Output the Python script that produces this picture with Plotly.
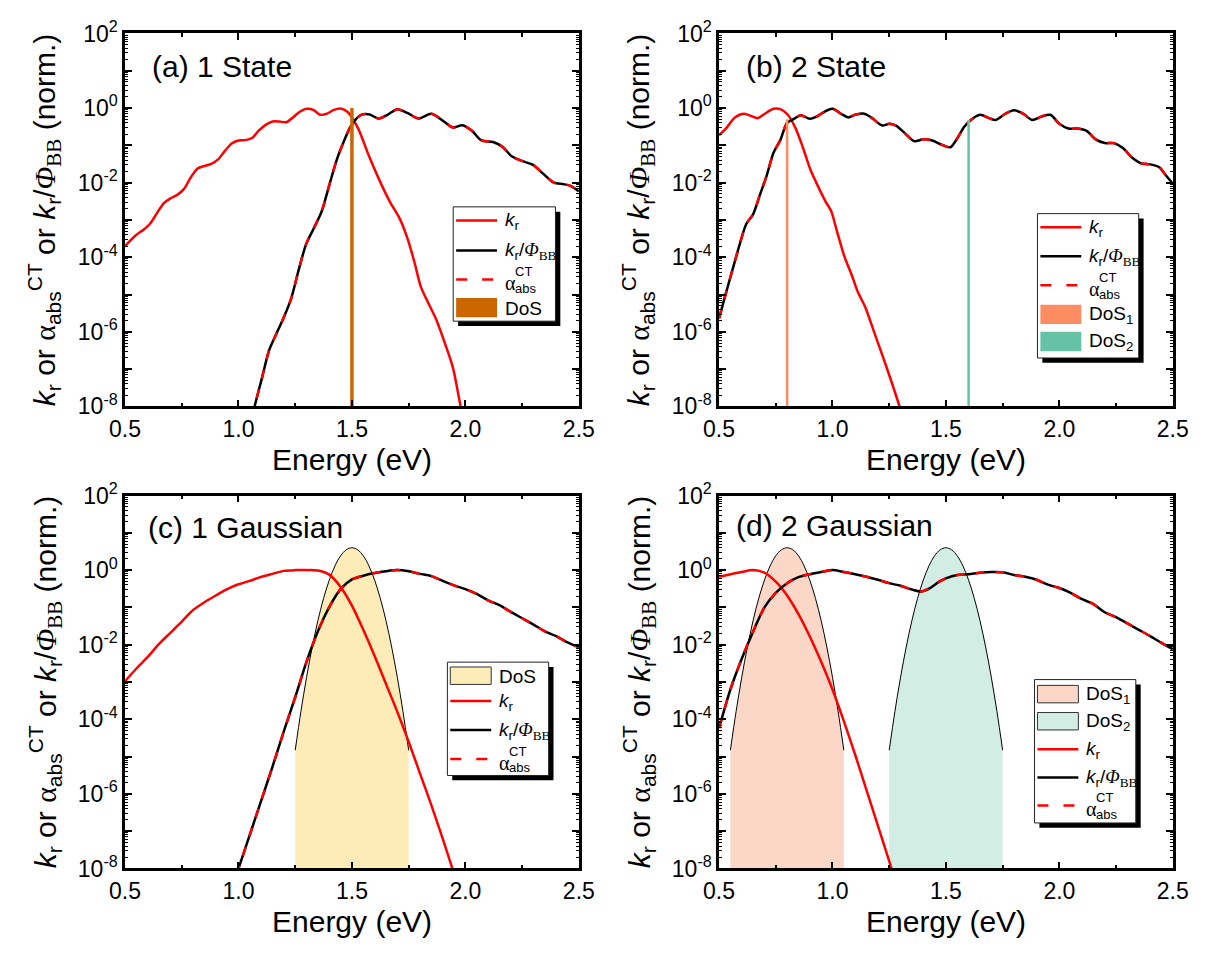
import plotly.graph_objects as go

W, H = 1219, 958
FONT = "Liberation Sans, Arial, Helvetica, sans-serif"
SERIF = "Liberation Serif"

# ---------------- data ----------------
# (a) 1 State
E_a_kr = [0.50, 0.55, 0.58, 0.61, 0.64, 0.67, 0.70, 0.73, 0.76, 0.79,
          0.82, 0.85, 0.88, 0.91, 0.94, 0.97, 1.00, 1.03, 1.06, 1.09,
          1.12, 1.15, 1.18, 1.21, 1.24, 1.27, 1.30, 1.33, 1.36, 1.39,
          1.42, 1.45, 1.48, 1.525, 1.576, 1.626, 1.668, 1.71, 1.744, 1.777,
          1.803, 1.836, 1.870, 1.912, 1.945, 1.979, 1.99]
kr_a = [2.0e-4, 4.0e-4, 5.4e-4, 7.9e-4, 1.5e-3, 2.8e-3, 3.8e-3, 4.7e-3, 6.8e-3, 1.4e-2,
        2.4e-2, 2.8e-2, 3.2e-2, 4.2e-2, 7.1e-2, 0.112, 0.135, 0.138, 0.158, 0.251,
        0.355, 0.437, 0.437, 0.417, 0.562, 0.794, 0.955, 0.891, 0.661, 0.708,
        0.891, 0.977, 0.794, 0.302, 0.050, 1.0e-2, 3.0e-3, 1.1e-3, 3.3e-4, 6.8e-5,
        1.66e-5, 6.0e-6, 2.24e-6, 4.5e-7, 1.1e-7, 1.0e-8, 5.0e-9]
E_a_bb = [1.06, 1.071, 1.105, 1.135, 1.164, 1.197, 1.231, 1.265, 1.298, 1.332, 1.366,
          1.399, 1.433, 1.466, 1.492, 1.517, 1.545, 1.576, 1.618, 1.66, 1.70,
          1.744, 1.794, 1.85, 1.903, 1.945, 1.987, 2.029, 2.071, 2.122, 2.164,
          2.206, 2.256, 2.298, 2.34, 2.39, 2.433, 2.466, 2.50]
krbb_a = [5.0e-9, 1.0e-8, 6.3e-8, 3.2e-7, 8.1e-7, 2.24e-6, 7.4e-6, 4.5e-5, 2.24e-4, 6.0e-4, 1.66e-3,
          8.1e-3, 4.1e-2, 0.135, 0.302, 0.50, 0.676, 0.676, 0.525, 0.676, 0.933,
          0.741, 0.525, 0.70, 0.447, 0.302, 0.347, 0.245, 0.135, 0.123, 0.091,
          0.050, 0.037, 0.030, 0.018, 0.010, 0.0091, 0.0081, 0.0058]
alpha_a = list(krbb_a)          # alpha_abs^CT coincides with k_r/Phi_BB
dosE_a = [1.50]
dosH_a = [1.0]

# (b) 2 State
E_b_kr = [0.50, 0.53, 0.57, 0.61, 0.64, 0.67, 0.70, 0.74, 0.77, 0.80,
          0.835, 0.868, 0.902, 0.927, 0.969, 0.994, 1.019, 1.052, 1.086, 1.111,
          1.145, 1.186, 1.236, 1.295, 1.31]
kr_b = [0.186, 0.282, 0.562, 0.708, 0.617, 0.537, 0.692, 0.955, 0.933, 0.692,
        0.309, 0.0933, 0.0229, 0.0105, 3.16e-3, 1.74e-3, 5.2e-4, 1.07e-4, 3.2e-5, 1.2e-5,
        4.5e-6, 8.9e-7, 1.23e-7, 1.02e-8, 5.0e-9]
E_b_bb = [0.50, 0.53, 0.56, 0.59, 0.62, 0.65, 0.68, 0.71, 0.74, 0.77,
          0.80, 0.83, 0.86, 0.90, 0.93, 0.97, 1.00, 1.04, 1.07, 1.10,
          1.14, 1.17, 1.22, 1.25, 1.28, 1.32, 1.36, 1.40, 1.44, 1.48,
          1.52, 1.55, 1.58, 1.61, 1.65, 1.69, 1.72, 1.76, 1.80, 1.84,
          1.88, 1.92, 1.96, 2.00, 2.04, 2.08, 2.12, 2.16, 2.20, 2.24,
          2.28, 2.32, 2.36, 2.40, 2.44, 2.47, 2.50]
krbb_b = [2.3e-6, 1.07e-5, 4.8e-5, 2.1e-4, 7.8e-4, 1.41e-3, 4.7e-3, 0.0155, 0.063, 0.138,
          0.40, 0.513, 0.646, 0.513, 0.589, 0.832, 0.955, 0.692, 0.562, 0.661,
          0.708, 0.562, 0.339, 0.380, 0.339, 0.209, 0.130, 0.145, 0.135, 0.105,
          0.089, 0.155, 0.309, 0.479, 0.661, 0.537, 0.479, 0.692, 0.871, 0.708,
          0.479, 0.589, 0.661, 0.380, 0.282, 0.282, 0.245, 0.145, 0.115, 0.115,
          0.085, 0.047, 0.033, 0.031, 0.026, 0.0155, 0.0093]
alpha_b = list(krbb_b)
dosE_b = [0.80, 1.60]
dosH_b = [0.50, 0.48]

# (c) 1 Gaussian
E_c_kr = [0.50, 0.55, 0.60, 0.65, 0.70, 0.75, 0.80, 0.85, 0.90, 0.95,
          1.00, 1.05, 1.10, 1.15, 1.20, 1.25, 1.30, 1.35, 1.40, 1.45,
          1.50, 1.55, 1.60, 1.65, 1.70, 1.75, 1.80, 1.85, 1.90, 1.94, 1.95]
kr_c = [1.05e-3, 2.3e-3, 4.7e-3, 0.0105, 0.0209, 0.0417, 0.085, 0.138, 0.209, 0.309,
        0.417, 0.513, 0.661, 0.794, 0.955, 1.0, 1.0, 0.977, 0.759, 0.355,
        0.112, 0.0251, 5.0e-3, 8.9e-4, 1.58e-4, 2.5e-5, 3.5e-6, 5.0e-7, 6.3e-8, 1.12e-8, 7.1e-9]
E_c_bb = [0.99, 1.00, 1.05, 1.10, 1.15, 1.20, 1.25, 1.30, 1.35, 1.40, 1.45,
          1.50, 1.55, 1.60, 1.65, 1.70, 1.75, 1.80, 1.85, 1.90, 1.95,
          2.00, 2.05, 2.10, 2.15, 2.20, 2.25, 2.30, 2.35, 2.40, 2.45, 2.50]
krbb_c = [7.0e-9, 1.0e-8, 8.1e-8, 6.6e-7, 5.4e-6, 4.8e-5, 3.9e-4, 3.5e-3, 0.0229, 0.102, 0.309,
          0.562, 0.708, 0.832, 0.933, 1.0, 0.933, 0.794, 0.692, 0.513, 0.389,
          0.309, 0.229, 0.155, 0.115, 0.0759, 0.0513, 0.0347, 0.0229, 0.0170, 0.0115, 0.0085]
alpha_c = list(krbb_c)
E_c_dos = [1.250, 1.275, 1.300, 1.325, 1.350, 1.375, 1.400, 1.425, 1.450, 1.475, 1.500,
           1.525, 1.550, 1.575, 1.600, 1.625, 1.650, 1.675, 1.700, 1.725, 1.750]
dos_c = [1.48e-5, 1.6e-4, 1.34e-3, 8.7e-3, 0.0443, 0.175, 0.538, 1.29, 2.42, 3.51, 3.98,
         3.51, 2.42, 1.29, 0.538, 0.175, 0.0443, 8.7e-3, 1.34e-3, 1.6e-4, 1.48e-5]

# (d) 2 Gaussian
E_d_kr = [0.50, 0.55, 0.60, 0.65, 0.70, 0.75, 0.80, 0.85, 0.90, 0.95,
          1.00, 1.05, 1.10, 1.15, 1.20, 1.25, 1.27]
kr_d = [0.661, 0.776, 0.891, 1.0, 0.851, 0.490, 0.209, 0.066, 0.0166, 3.5e-3,
        6.3e-4, 8.9e-5, 1.12e-5, 1.26e-6, 1.41e-7, 1.58e-8, 6.3e-9]
E_d_bb = [0.50, 0.55, 0.60, 0.65, 0.70, 0.75, 0.80, 0.85, 0.90, 0.95,
          1.00, 1.05, 1.10, 1.15, 1.20, 1.25, 1.30, 1.35, 1.39, 1.43,
          1.47, 1.50, 1.55, 1.60, 1.65, 1.70, 1.75, 1.80, 1.85, 1.90,
          1.95, 2.00, 2.05, 2.10, 2.15, 2.20, 2.25, 2.30, 2.35, 2.40,
          2.45, 2.50]
krbb_d = [5.8e-5, 6.3e-4, 4.2e-3, 0.0224, 0.100, 0.245, 0.447, 0.646, 0.776, 0.891,
          1.0, 0.891, 0.776, 0.661, 0.550, 0.447, 0.380, 0.302, 0.269, 0.331,
          0.490, 0.603, 0.741, 0.776, 0.851, 0.891, 0.871, 0.741, 0.661, 0.550,
          0.407, 0.331, 0.245, 0.166, 0.123, 0.0741, 0.0550, 0.0372, 0.0251, 0.0170,
          0.0112, 0.0076]
alpha_d = list(krbb_d)
E_d_dos1 = [0.550, 0.575, 0.600, 0.625, 0.650, 0.675, 0.700, 0.725, 0.750, 0.775, 0.800,
            0.825, 0.850, 0.875, 0.900, 0.925, 0.950, 0.975, 1.000, 1.025, 1.050]
dos1_d = [1.48e-5, 1.6e-4, 1.34e-3, 8.7e-3, 0.0443, 0.175, 0.538, 1.29, 2.42, 3.51, 3.98,
          3.51, 2.42, 1.29, 0.538, 0.175, 0.0443, 8.7e-3, 1.34e-3, 1.6e-4, 1.48e-5]
E_d_dos2 = [1.250, 1.275, 1.300, 1.325, 1.350, 1.375, 1.400, 1.425, 1.450, 1.475, 1.500,
            1.525, 1.550, 1.575, 1.600, 1.625, 1.650, 1.675, 1.700, 1.725, 1.750]
dos2_d = [1.48e-5, 1.6e-4, 1.34e-3, 8.7e-3, 0.0443, 0.175, 0.538, 1.29, 2.42, 3.51, 3.98,
          3.51, 2.42, 1.29, 0.538, 0.175, 0.0443, 8.7e-3, 1.34e-3, 1.6e-4, 1.48e-5]

panel_titles = ["(a) 1 State", "(b) 2 State", "(c) 1 Gaussian", "(d) 2 Gaussian"]
x_title = "Energy (eV)"
y_exp_range = [-8, 2]
x_range = [0.5, 2.5]

# ---------------- styles ----------------
RED = "#FF0000"
BLACK = "#000000"
C_DOS_A = "#CC6600"
C_DOS1 = "#FC8D62"
C_DOS2 = "#66C2A5"
F_DOS_C = "#FDEBB8"
F_DOS1 = "#FBD7C8"
F_DOS2 = "#D2EDE4"
LW = 2.5
DASH = "9px,11px"
YFLOOR = 10.0 ** y_exp_range[0]

# panel geometry in pixels (left, top, right, bottom)
GEOM = [(112, 17, 578, 402), (722, 17, 1188, 402),
        (112, 494, 578, 879), (722, 494, 1188, 879)]


def P(x, y):
    return x / W, 1 - y / H


fig = go.Figure()


def axn(i):
    return ("x" if i == 0 else f"x{i+1}"), ("y" if i == 0 else f"y{i+1}")


def line_trace(i, x, y, color, width=LW, dash="solid"):
    xa, ya = axn(i)
    fig.add_trace(go.Scatter(x=x, y=y, mode="lines", xaxis=xa, yaxis=ya,
                             line=dict(color=color, width=width, dash=dash, shape="spline", smoothing=0.8),
                             showlegend=False, hoverinfo="skip"))


def dos_fill(i, x, y, fill):
    xa, ya = axn(i)
    fig.add_trace(go.Scatter(x=list(x) + [x[-1], x[0]], y=list(y) + [YFLOOR, YFLOOR],
                             mode="lines", fill="toself", fillcolor=fill, xaxis=xa, yaxis=ya,
                             line=dict(width=0, color=fill), showlegend=False, hoverinfo="skip"))
    fig.add_trace(go.Scatter(x=x, y=y, mode="lines", xaxis=xa, yaxis=ya,
                             line=dict(color=BLACK, width=1, shape="spline"),
                             showlegend=False, hoverinfo="skip"))


def dos_line(i, e, h, color, width):
    xa, ya = axn(i)
    fig.add_trace(go.Scatter(x=[e, e], y=[YFLOOR, h], mode="lines", xaxis=xa, yaxis=ya,
                             line=dict(color=color, width=width), showlegend=False, hoverinfo="skip"))


# (a)
line_trace(0, E_a_kr, kr_a, RED)
line_trace(0, E_a_bb, krbb_a, BLACK)
line_trace(0, E_a_bb, alpha_a, RED, dash=DASH)
dos_line(0, dosE_a[0], dosH_a[0], C_DOS_A, 3.5)
# (b)
line_trace(1, E_b_kr, kr_b, RED)
line_trace(1, E_b_bb, krbb_b, BLACK)
line_trace(1, E_b_bb, alpha_b, RED, dash=DASH)
dos_line(1, dosE_b[0], dosH_b[0], C_DOS1, 2.5)
dos_line(1, dosE_b[1], dosH_b[1], C_DOS2, 2.5)
# (c)
dos_fill(2, E_c_dos, dos_c, F_DOS_C)
line_trace(2, E_c_kr, kr_c, RED)
line_trace(2, E_c_bb, krbb_c, BLACK)
line_trace(2, E_c_bb, alpha_c, RED, dash=DASH)
# (d)
dos_fill(3, E_d_dos1, dos1_d, F_DOS1)
dos_fill(3, E_d_dos2, dos2_d, F_DOS2)
line_trace(3, E_d_kr, kr_d, RED)
line_trace(3, E_d_bb, krbb_d, BLACK)
line_trace(3, E_d_bb, alpha_d, RED, dash=DASH)

# ---------------- axes ----------------
exps = list(range(y_exp_range[0], y_exp_range[1] + 1))
ytv = [10.0 ** k for k in exps]
ytt = [f"10<sup>{k}</sup>" if k % 2 == 0 else "" for k in exps]
ymin = [m * 10.0 ** k for k in exps[:-1] for m in range(2, 10)]

tickfont = dict(family=FONT, size=23, color="black")
layout = dict(width=W, height=H, margin=dict(l=0, r=0, t=0, b=0), autosize=False,
              paper_bgcolor="white", plot_bgcolor="white", showlegend=False)
for i, (l, t, r, b) in enumerate(GEOM):
    sfx = "" if i == 0 else str(i + 1)
    xa, ya = axn(i)
    layout["xaxis" + sfx] = dict(
        domain=[l / W, r / W], anchor=ya, range=x_range, tickmode="linear", tick0=0.5, dtick=0.5,
        tickformat=".1f", showline=True, linewidth=2.5, linecolor="black", mirror="ticks",
        ticks="inside", ticklen=7, tickwidth=2, tickcolor="black", showgrid=False, zeroline=False,
        tickfont=tickfont,
        minor=dict(tick0=0.5, dtick=0.25, ticks="inside", ticklen=4, tickwidth=1.5, tickcolor="black", showgrid=False))
    layout["yaxis" + sfx] = dict(
        domain=[1 - b / H, 1 - t / H], anchor=xa, type="log", range=y_exp_range,
        tickmode="array", tickvals=ytv, ticktext=ytt, showline=True, linewidth=2.5, linecolor="black",
        mirror="ticks", ticks="inside", ticklen=7, tickwidth=2, tickcolor="black", showgrid=False,
        zeroline=False, tickfont=tickfont,
        minor=dict(tickmode="array", tickvals=ymin, ticks="inside", ticklen=3.5, tickwidth=1.2,
                   tickcolor="black", showgrid=False))
fig.update_layout(**layout)

# ---------------- annotations (titles) ----------------
ann = []
shapes = []
YTITLE = ("<i>k</i><sub>r</sub> or <span style='font-family:Liberation Serif'>α</span>"
          "<sub>abs</sub><sup>CT</sup> or <i>k</i><sub>r</sub>/"
          "<span style='font-family:Liberation Serif'><i>Φ</i><sub>BB</sub></span> (norm.)")
label_pos = [(138, 51), (748, 51), (134, 527), (737, 525)]
for i, (l, t, r, b) in enumerate(GEOM):
    cx, cy = P((l + r) / 2, b + 55)
    ann.append(dict(x=cx, y=cy, xref="paper", yref="paper", text=x_title, showarrow=False,
                    xanchor="center", yanchor="middle", font=dict(family=FONT, size=30, color="black")))
    tx, ty = P(l - 82, (t + b) / 2)
    ann.append(dict(x=tx, y=ty, xref="paper", yref="paper", text=YTITLE, showarrow=False,
                    textangle=-90, xanchor="center", yanchor="middle",
                    font=dict(family=FONT, size=30, color="black")))
    lx, ly = P(*label_pos[i])
    ann.append(dict(x=lx, y=ly, xref="paper", yref="paper", text=panel_titles[i], showarrow=False,
                    xanchor="left", yanchor="middle", font=dict(family=FONT, size=30, color="black")))

# ---------------- hand-drawn legends ----------------
KR = "<i>k</i><sub>r</sub>"
KRBB = "<i>k</i><sub>r</sub>/<span style='font-family:Liberation Serif'><i>Φ</i><sub>BB</sub></span>"
LFONT = dict(family=FONT, size=19, color="black")


def rect(x0, y0, x1, y1, fill, lc, lw):
    a, b_ = P(x0, y0)
    c, d = P(x1, y1)
    shapes.append(dict(type="rect", xref="paper", yref="paper", x0=a, y0=d, x1=c, y1=b_,
                       fillcolor=fill, line=dict(color=lc, width=lw), layer="above"))


def seg(x0, x1, y, color, width, dash="solid"):
    a, b_ = P(x0, y)
    c, _ = P(x1, y)
    shapes.append(dict(type="line", xref="paper", yref="paper", x0=a, y0=b_, x1=c, y1=b_,
                       line=dict(color=color, width=width, dash=dash), layer="above"))


def text(x, y, s, font=LFONT):
    a, b_ = P(x, y)
    ann.append(dict(x=a, y=b_, xref="paper", yref="paper", text=s, showarrow=False,
                    xanchor="left", yanchor="middle", font=font))


def legend(box, rows):
    x0, y0, x1, y1 = box
    rect(x0 + 5, y0 + 5, x1 + 5, y1 + 5, "black", "black", 0)
    rect(x0, y0, x1, y1, "white", "#222222", 1)
    sx0, sx1, tx = x0 + 3, x0 + 45, x0 + 51
    for kind, ry, color, label in rows:
        if kind == "line":
            seg(sx0, sx1, ry, color, LW)
        elif kind == "dash":
            seg(sx0, sx1, ry, color, LW, "11px,15px")
        elif kind == "rect":
            rect(sx0, ry - 10, sx1, ry + 10, color, color, 0)
        elif kind == "frect":
            rect(sx0, ry - 9, sx1, ry + 9, color, "#333333", 1)
        if label == "alpha":
            text(tx, ry + 4, "α", dict(family=SERIF, size=20, color="black"))
            text(tx + 10, ry - 8, "CT", dict(family=FONT, size=13, color="black"))
            text(tx + 10, ry + 9, "abs", dict(family=FONT, size=13, color="black"))
        else:
            text(tx, ry + 1, label)


legend((449, 196, 554, 314), [("line", 210, RED, KR), ("line", 241, BLACK, KRBB),
                              ("dash", 271, RED, "alpha"), ("rect", 300, C_DOS_A, "DoS")])
legend((1049, 203, 1153, 352), [("line", 217, RED, KR), ("line", 247, BLACK, KRBB),
                                ("dash", 277, RED, "alpha"), ("rect", 307, C_DOS1, "DoS<sub>1</sub>"),
                                ("rect", 335, C_DOS2, "DoS<sub>2</sub>")])
legend((443, 666, 547, 783), [("frect", 680, F_DOS_C, "DoS"), ("line", 706, RED, KR),
                              ("line", 736, BLACK, KRBB), ("dash", 766, RED, "alpha")])
legend((1046, 684, 1150, 832), [("frect", 699, F_DOS1, "DoS<sub>1</sub>"),
                                ("frect", 727, F_DOS2, "DoS<sub>2</sub>"),
                                ("line", 756, RED, KR), ("line", 785, BLACK, KRBB),
                                ("dash", 814, RED, "alpha")])

fig.update_layout(annotations=ann, shapes=shapes)
fig.write_html("out.html")
